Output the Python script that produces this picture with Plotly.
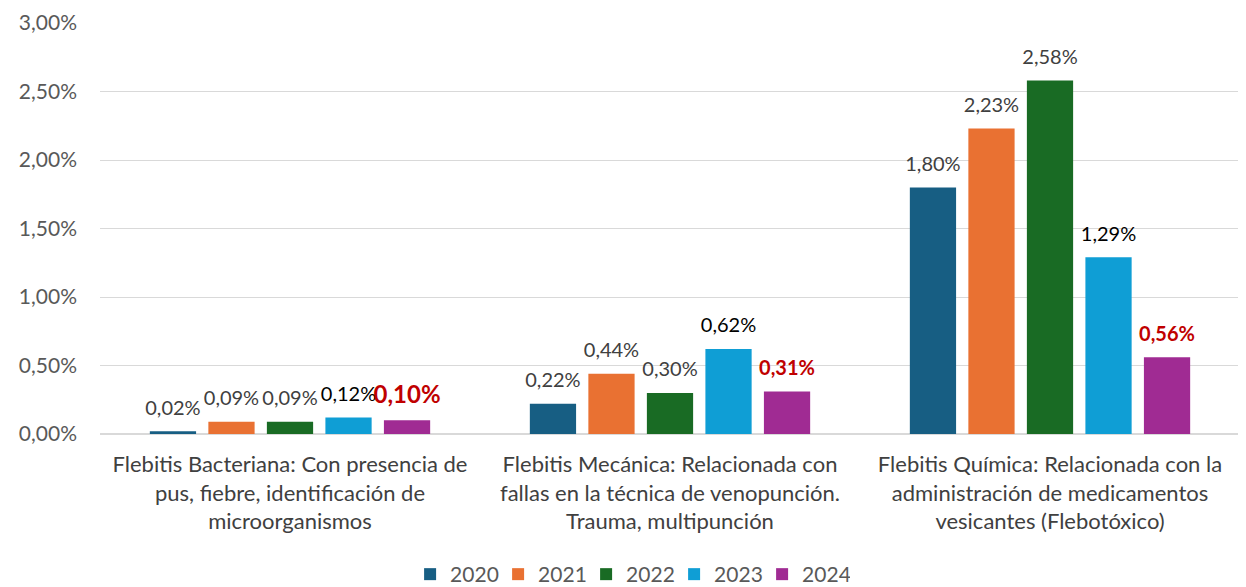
import plotly.graph_objects as go

categories = [
    "Flebitis Bacteriana: Con presencia de<br>pus, fiebre, identificación de<br>microorganismos",
    "Flebitis Mecánica: Relacionada con<br>fallas en la técnica de venopunción.<br>Trauma, multipunción",
    "Flebitis Química: Relacionada con la<br>administración de medicamentos<br>vesicantes (Flebotóxico)",
]
years = ["2020", "2021", "2022", "2023", "2024"]
v2020 = [0.0002, 0.0022, 0.0180]
v2021 = [0.0009, 0.0044, 0.0223]
v2022 = [0.0009, 0.0030, 0.0258]
v2023 = [0.0012, 0.0062, 0.0129]
v2024 = [0.0010, 0.0031, 0.0056]
series = [v2020, v2021, v2022, v2023, v2024]
colors = ["#175E83", "#E97132", "#196B24", "#0F9ED5", "#A02B93"]

FONT = "Lato"
label_colors = ["#404040", "#404040", "#404040", "#000000", "#C00000"]
label_sizes = [[20] * 3, [20] * 3, [20] * 3, [20] * 3, [24, 20, 20]]

fig = go.Figure()
for i, (yr, vals) in enumerate(zip(years, series)):
    fig.add_trace(go.Bar(
        name=yr, x=categories, y=vals, marker_color=colors[i],
        marker_line_width=0, textposition="none",
    ))
# data labels, grouped like the bars
for i, (yr, vals) in enumerate(zip(years, series)):
    tmpl = "<b>%{y:.2%}</b>" if yr == "2024" else "%{y:.2%}"
    fig.add_trace(go.Scatter(
        name=yr, x=categories, y=vals, mode="markers+text",
        marker=dict(size=17, opacity=0), showlegend=False, hoverinfo="skip",
        texttemplate=tmpl, textposition="top center", cliponaxis=False,
        textfont=dict(family=FONT, size=label_sizes[i], color=label_colors[i]),
    ))

fig.update_layout(
    width=1246, height=587,
    separators=",.",
    paper_bgcolor="white", plot_bgcolor="white",
    margin=dict(l=92, r=14, t=15, b=161, autoexpand=False),
    barmode="group", bargap=0.23, bargroupgap=0.21,
    scattermode="group", scattergap=0.23,
    font=dict(family=FONT, color="#595959"),
    legend=dict(orientation="h", x=0.465, xanchor="center", yref="container", y=-0.004, yanchor="bottom",
                font=dict(size=21, color="#595959"), entrywidth=43, entrywidthmode="pixels",
                traceorder="normal"),
    showlegend=True,
)
fig.update_yaxes(range=[0, 0.03], dtick=0.005, tickformat=".2%", automargin=False,
                 gridcolor="#D9D9D9", gridwidth=1, zeroline=True, zerolinecolor="#D9D9D9",
                 tickfont=dict(size=21, color="#595959"), ticklabelstandoff=22, showline=False,
                 ticklabeloverflow="allow")
fig.update_xaxes(tickfont=dict(size=22, color="#404040"), showline=False, ticks="",
                 automargin=False, ticklabelstandoff=15)

fig.write_html("out.html")
